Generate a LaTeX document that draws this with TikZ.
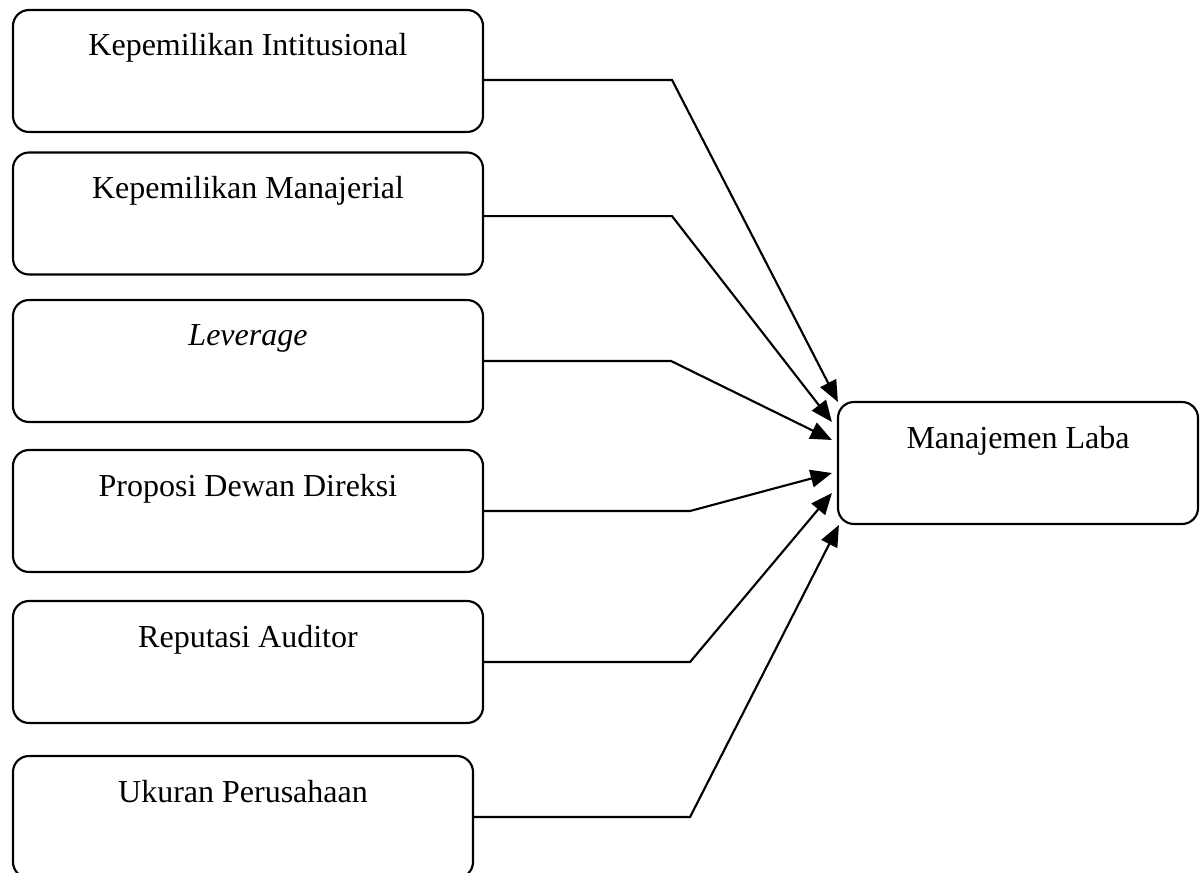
\documentclass[tikz,border=0pt]{standalone}
\usepackage{fontspec}
\setmainfont{Liberation Serif}
\usepackage{tikz}
\usetikzlibrary{arrows.meta,calc}

\begin{document}
\begin{tikzpicture}[x=0.375pt,y=-0.375pt,>={Triangle[length=8pt,width=6.6pt]},
  varbox/.style={draw,line width=0.8pt,rounded corners=6pt,inner sep=0pt,
    minimum width=176.25pt,text height=17.25pt,text depth=28.5pt,
    font=\fontsize{12}{14}\selectfont},
  link/.style={->,line width=0.8pt,line join=miter}]
  \useasboundingbox (0,0) rectangle (1203,873);
  \node[varbox] (inst) at (248,71) {Kepemilikan Intitusional};
  \node[varbox] (mnj) at (248,213.5) {Kepemilikan Manajerial};
  \node[varbox] (lev) at (248,361) {\textit{Leverage}};
  \node[varbox] (dir) at (248,511) {Proposi Dewan Direksi};
  \node[varbox] (aud) at (248,662) {Reputasi Auditor};
  \node[varbox,minimum width=172.5pt] (size) at (243,817) {Ukuran Perusahaan};
  \node[varbox,minimum width=135pt] (laba) at (1018,463) {Manajemen Laba};
  % connectors: straight out, then angled into the target
  \draw[link] ([yshift=-3.4pt]inst.east) -- ++(188,0) -- ($(laba.west)+(1,-61)$);
  \draw[link] ([yshift=-1pt]mnj.east) -- ++(188,0) -- ($(laba.west)+(-5,-41)$);
  \foreach \src/\run/\dx/\dy in {lev/187/-5/-23,dir/206/-5/10,aud/206/-5/30,size/216/2/62}{
    \draw[link] (\src.east) -- ++(\run,0) -- ($(laba.west)+(\dx,\dy)$);
  }
\end{tikzpicture}
\end{document}
